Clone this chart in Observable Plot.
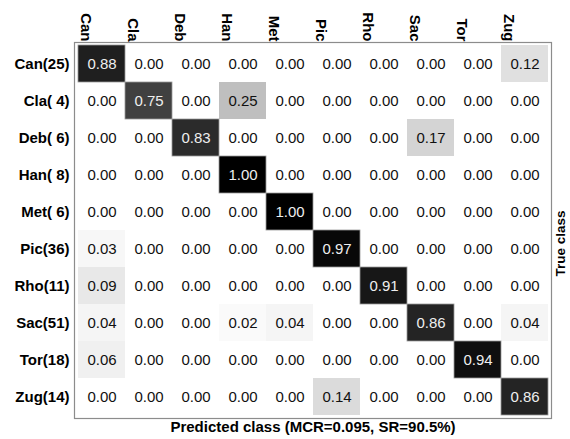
<!DOCTYPE html>
<html>
<head>
<meta charset="utf-8">
<script src="https://cdn.jsdelivr.net/npm/d3@7"></script>
<script src="https://cdn.jsdelivr.net/npm/@observablehq/plot@0.6"></script>
<style>
  html, body { margin: 0; padding: 0; background: #fff; }
  #chart { width: 570px; height: 439px; }
</style>
</head>
<body>
<div id="chart"></div>
<script>
// Class abbreviations and number of samples per true class
const classes = ["Can", "Cla", "Deb", "Han", "Met", "Pic", "Rho", "Sac", "Tor", "Zug"];
const counts = [25, 4, 6, 8, 6, 36, 11, 51, 18, 14];

// Row-normalised confusion matrix (rows: true class, columns: predicted class)
const rates = [
  [0.88, 0.00, 0.00, 0.00, 0.00, 0.00, 0.00, 0.00, 0.00, 0.12],
  [0.00, 0.75, 0.00, 0.25, 0.00, 0.00, 0.00, 0.00, 0.00, 0.00],
  [0.00, 0.00, 0.83, 0.00, 0.00, 0.00, 0.00, 0.17, 0.00, 0.00],
  [0.00, 0.00, 0.00, 1.00, 0.00, 0.00, 0.00, 0.00, 0.00, 0.00],
  [0.00, 0.00, 0.00, 0.00, 1.00, 0.00, 0.00, 0.00, 0.00, 0.00],
  [0.03, 0.00, 0.00, 0.00, 0.00, 0.97, 0.00, 0.00, 0.00, 0.00],
  [0.09, 0.00, 0.00, 0.00, 0.00, 0.00, 0.91, 0.00, 0.00, 0.00],
  [0.04, 0.00, 0.00, 0.02, 0.04, 0.00, 0.00, 0.86, 0.00, 0.04],
  [0.06, 0.00, 0.00, 0.00, 0.00, 0.00, 0.00, 0.00, 0.94, 0.00],
  [0.00, 0.00, 0.00, 0.00, 0.00, 0.14, 0.00, 0.00, 0.00, 0.86]
];

const xTitle = "Predicted class (MCR=0.095, SR=90.5%)";
const yTitle = "True class";

const cells = rates.flatMap((row, i) =>
  row.map((v, j) => ({ truth: classes[i], pred: classes[j], v }))
);
const rowLabel = new Map(classes.map((c, i) => [c, `${c}(${String(counts[i]).padStart(2, " ")})`]));

const font = "Arial, 'Liberation Sans', Helvetica, sans-serif";

const chart = Plot.plot({
  width: 570,
  height: 439,
  marginLeft: 74,
  marginRight: 19,
  marginTop: 42,
  marginBottom: 21,
  style: { fontFamily: font, background: "#fff", color: "#000" },
  x: { type: "band", domain: classes, padding: 0, axis: null },
  y: { type: "band", domain: classes, padding: 0, axis: null },
  color: { type: "linear", domain: [0, 1], range: ["#ffffff", "#000000"], interpolate: "rgb" },
  marks: [
    Plot.cell(cells, { x: "pred", y: "truth", fill: "v" }),
    // faint outline around the darker cells
    Plot.cell(cells.filter(d => d.v >= 0.5), { x: "pred", y: "truth", stroke: "#9a9a9a", strokeWidth: 0.8, fill: "none" }),
    Plot.frame({ stroke: "#8c8c8c", strokeWidth: 1.2 }),
    Plot.text(cells, {
      x: "pred", y: "truth",
      text: d => d.v.toFixed(2),
      fill: d => d.v > 0.5 ? "#eeeeee" : "#111111",
      fontSize: 15
    }),
    // Column headers: rotated, ending just above the matrix
    Plot.text(classes, {
      x: d => d, frameAnchor: "top", text: d => d,
      rotate: 90, textAnchor: "end", dy: -1, dx: -10,
      fontSize: 15, fontWeight: "bold", fill: "#000"
    }),
    // Row headers with class sizes
    Plot.axisY({
      anchor: "left", tickSize: 0, tickPadding: 5, label: null,
      tickFormat: d => rowLabel.get(d),
      fontSize: 15, fontWeight: "bold", fill: "#000"
    }),
    Plot.text([xTitle], {
      frameAnchor: "bottom", text: d => d, lineAnchor: "top", dy: 3,
      fontSize: 15, fontWeight: "bold", fill: "#000"
    }),
    Plot.text([yTitle], {
      frameAnchor: "right", text: d => d, rotate: -90, dx: 9, dy: -20,
      fontSize: 13.5, fontWeight: "bold", fill: "#000"
    })
  ]
});

document.getElementById("chart").append(chart);
</script>
</body>
</html>
